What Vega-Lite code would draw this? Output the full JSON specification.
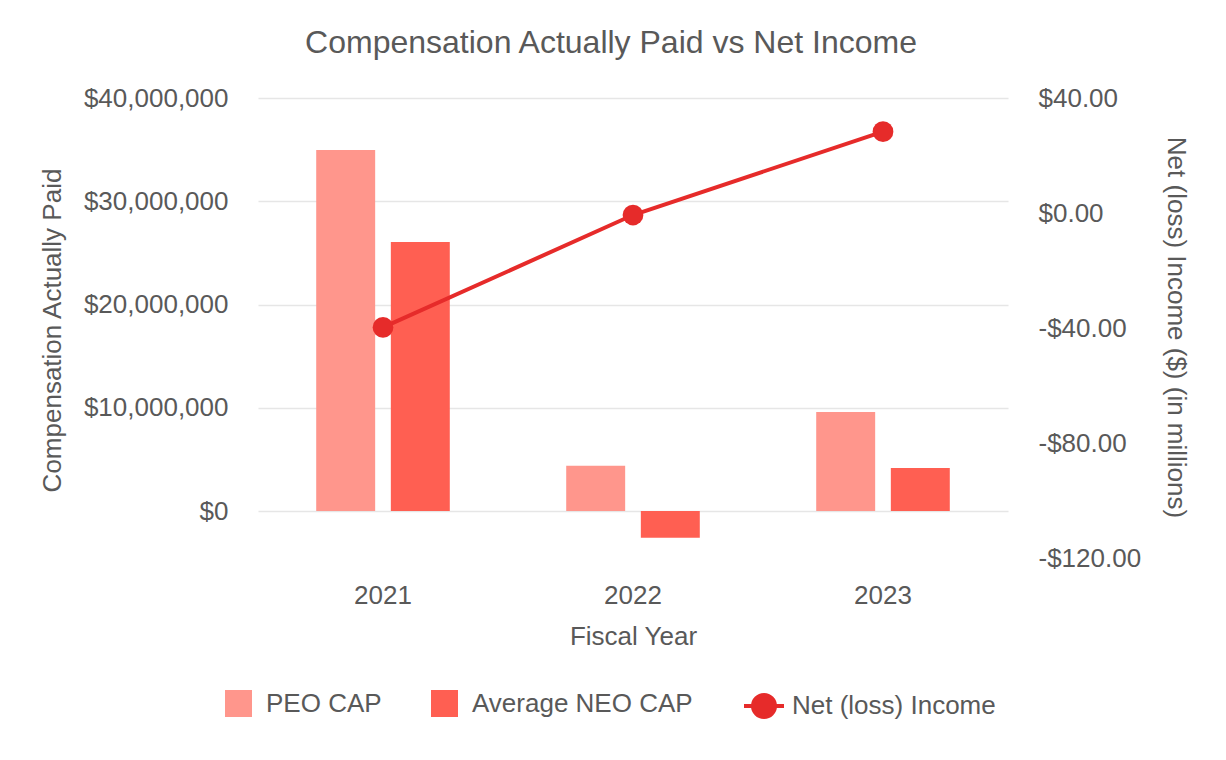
{
  "$schema": "https://vega.github.io/schema/vega-lite/v6.json",
  "width": 750,
  "height": 460,
  "autosize": {"type": "none"},
  "padding": {"left": 258, "top": 98, "right": 218, "bottom": 202},
  "background": "#ffffff",
  "config": {
    "font": "Liberation Sans",
    "view": {"stroke": null},
    "axis": {"labelColor": "#595959", "titleColor": "#595959", "labelFontSize": 26, "titleFontSize": 26, "titleFontWeight": "normal", "domain": false, "ticks": false},
    "legend": {"labelColor": "#595959", "labelFontSize": 26, "labelLimit": 0}
  },
  "title": {"text": "Compensation Actually Paid vs Net Income", "fontSize": 32, "fontWeight": "normal", "color": "#595959", "anchor": "middle", "dx": -22, "offset": 25},
  "layer": [
    {
      "data": {"values": [
        {"year": "2021", "series": "PEO CAP", "value": 34960000},
        {"year": "2021", "series": "Average NEO CAP", "value": 26050000},
        {"year": "2022", "series": "PEO CAP", "value": 4390000},
        {"year": "2022", "series": "Average NEO CAP", "value": -2590000},
        {"year": "2023", "series": "PEO CAP", "value": 9600000},
        {"year": "2023", "series": "Average NEO CAP", "value": 4170000}
      ]},
      "mark": {"type": "bar"},
      "encoding": {
        "x": {"field": "year", "type": "ordinal", "scale": {"paddingInner": 0, "paddingOuter": 0},
              "axis": {"labelAngle": 0, "title": "Fiscal Year", "labelPadding": 24, "titlePadding": 15}},
        "xOffset": {"field": "series", "type": "nominal", "sort": ["PEO CAP", "Average NEO CAP"], "scale": {"paddingInner": 0.21, "paddingOuter": 0.78}},
        "y": {"field": "value", "type": "quantitative", "scale": {"domain": [-4550000, 40000000], "nice": false, "zero": false},
              "axis": {"orient": "left", "values": [0, 10000000, 20000000, 30000000, 40000000], "format": "$,.0f", "grid": true, "gridColor": "#e6e6e6", "gridWidth": 1.5, "labelPadding": 30, "title": "Compensation Actually Paid", "titleAngle": -90, "titleX": -206, "titleY": 232, "titleBaseline": "middle", "titleAlign": "center"}},
        "color": {"field": "series", "type": "nominal", "scale": {"domain": ["PEO CAP", "Average NEO CAP"], "range": ["#ff968c", "#ff5f52"]},
                  "legend": {"title": null, "orient": "none", "direction": "horizontal", "legendX": -33, "legendY": 592, "symbolType": "square", "symbolSize": 729, "symbolStrokeWidth": 0, "labelOffset": 14, "columnPadding": 49}}
      }
    },
    {
      "data": {"values": [
        {"year": "2021", "net": -39.8},
        {"year": "2022", "net": -0.7},
        {"year": "2023", "net": 28.3}
      ]},
      "layer": [
        {
          "mark": {"type": "line", "strokeWidth": 4},
          "encoding": {
            "x": {"field": "year", "type": "ordinal"},
            "y": {"field": "net", "type": "quantitative", "scale": {"domain": [-120, 40], "nice": false, "zero": false},
                  "axis": {"orient": "right", "values": [-120, -80, -40, 0, 40], "labelExpr": "(datum.value < 0 ? '-$' : '$') + format(abs(datum.value), ',.2f')", "grid": false, "labelPadding": 30, "title": "Net (loss) Income ($) (in millions)", "titleAngle": 90, "titleX": 167, "titleY": 229, "titleBaseline": "middle", "titleAlign": "center"}},
            "stroke": {"datum": "Net (loss) Income", "scale": {"domain": ["Net (loss) Income"], "range": ["#e62b2a"]},
                       "legend": {"title": null, "orient": "none", "direction": "horizontal", "legendX": 484, "legendY": 586, "symbolType": "M-1,0L1,0M0.55,0A0.55,0.55,0,1,1,-0.55,0A0.55,0.55,0,1,1,0.55,0Z", "symbolSize": 1600, "symbolStrokeWidth": 4, "labelOffset": 6,
                                  "encode": {"symbols": {"update": {"fill": {"value": "#e62b2a"}, "stroke": {"value": "#e62b2a"}, "strokeWidth": {"value": 4}, "opacity": {"value": 1}}}}}}
          }
        },
        {
          "mark": {"type": "point", "filled": true, "size": 430, "color": "#e62b2a", "opacity": 1},
          "encoding": {
            "x": {"field": "year", "type": "ordinal"},
            "y": {"field": "net", "type": "quantitative"}
          }
        }
      ]
    }
  ],
  "resolve": {"scale": {"y": "independent"}}
}
